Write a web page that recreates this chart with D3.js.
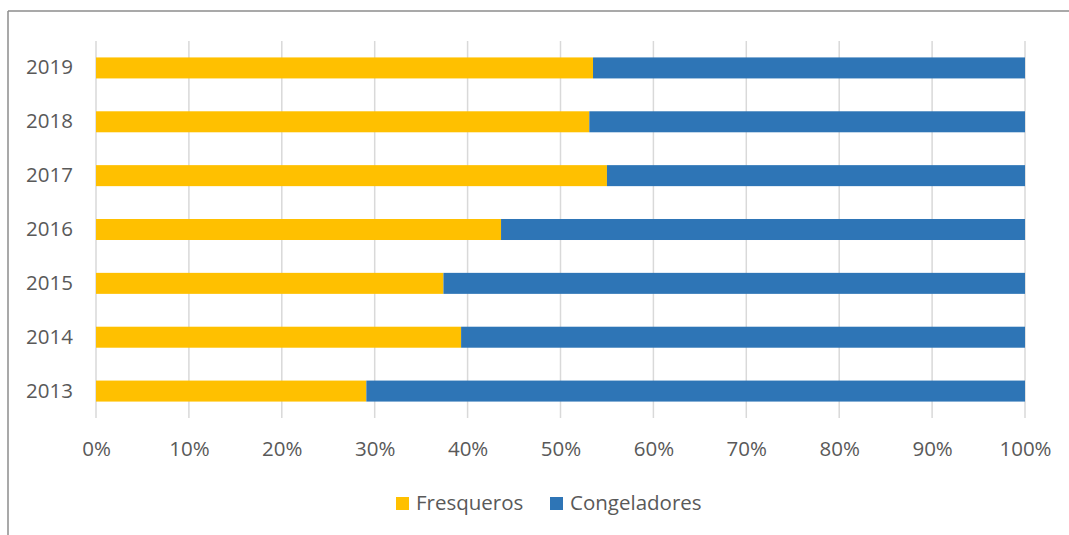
<!DOCTYPE html>
<html><head><meta charset="utf-8">
<script src="https://cdn.jsdelivr.net/npm/d3@7"></script>
<style>html,body{margin:0;padding:0;background:#fff;}svg{display:block;}</style>
</head><body>
<script>
const years = ["2019","2018","2017","2016","2015","2014","2013"];
const fresqueros = [53.5, 53.1, 55.0, 43.6, 37.4, 39.3, 29.1];
const congeladores = [46.5, 46.9, 45.0, 56.4, 62.6, 60.7, 70.9];
const seriesNames = ["Fresqueros", "Congeladores"];
const seriesColors = ["#FFC000", "#2E75B6"];
const xTicks = [0,10,20,30,40,50,60,70,80,90,100];

const W = 1069, H = 535;
const svg = d3.select("body").append("svg").attr("width", W).attr("height", H);
const font = "'Open Sans', sans-serif";
const txt = "#595959";

// chart border (top + left visible)
svg.append("line").attr("x1", 8).attr("x2", W).attr("y1", 11).attr("y2", 11).attr("stroke", "#8c8c8c").attr("stroke-width", 1.5);
svg.append("line").attr("x1", 8).attr("x2", 8).attr("y1", 11).attr("y2", H).attr("stroke", "#8c8c8c").attr("stroke-width", 1.5);

const x = d3.scaleLinear().domain([0, 100]).range([96, 1025]);
const y = d3.scaleBand().domain(years).range([41, 418]).paddingInner(0.61).paddingOuter(0.305);

// gridlines
svg.append("g").selectAll("line").data(xTicks).join("line")
  .attr("x1", d => x(d)).attr("x2", d => x(d))
  .attr("y1", 41).attr("y2", 418)
  .attr("stroke", "#d9d9d9").attr("stroke-width", 1.5);

const rows = years.map((yr, i) => ({yr, vals: [fresqueros[i], congeladores[i]]}));
const stack = d3.stack().keys([0,1]).value((d, k) => d.vals[k]);
const stacked = stack(rows);

svg.append("g").selectAll("g").data(stacked).join("g")
  .attr("fill", (d, i) => seriesColors[i])
  .selectAll("rect").data(d => d).join("rect")
  .attr("x", d => x(d[0])).attr("width", d => x(d[1]) - x(d[0]))
  .attr("y", d => y(d.data.yr)).attr("height", y.bandwidth());

// y labels
const yAxis = d3.axisLeft(y).tickSize(0).tickPadding(0);
const gy = svg.append("g").attr("transform", "translate(73,0)").call(yAxis);
gy.select(".domain").remove();
gy.selectAll("text").attr("font-family", font).attr("font-size", 20.5).attr("fill", txt);

// x labels
const xAxis = d3.axisBottom(x).tickValues(xTicks).tickFormat(d => d + "%").tickSize(0).tickPadding(0);
const gx = svg.append("g").attr("transform", "translate(0,441)").call(xAxis);
gx.select(".domain").remove();
gx.selectAll("text").attr("font-family", font).attr("font-size", 20.5).attr("fill", txt);

// legend
const legendX = [396, 550];
const lg = svg.append("g");
seriesNames.forEach((n, i) => {
  lg.append("rect").attr("x", legendX[i]).attr("y", 497).attr("width", 13).attr("height", 13).attr("fill", seriesColors[i]);
  lg.append("text").attr("x", legendX[i] + 20).attr("y", 503).attr("dy", "0.35em")
    .attr("font-family", font).attr("font-size", 20.5).attr("fill", txt).text(n);
});
</script>
</body></html>
